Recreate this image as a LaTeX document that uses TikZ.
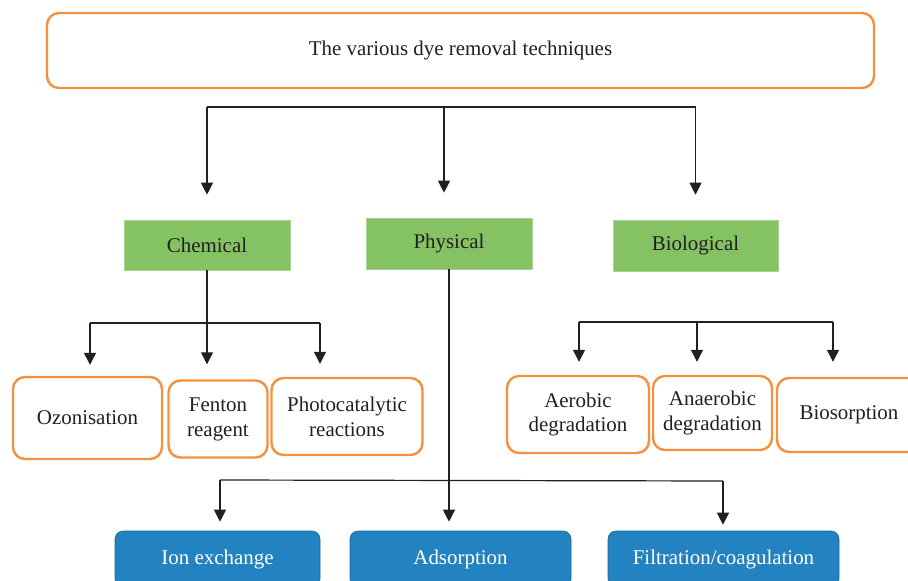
\documentclass[tikz,border=0pt]{standalone}
\usepackage{fontspec}
\setmainfont{Liberation Serif}
\usetikzlibrary{arrows.meta}
\definecolor{ramka}{HTML}{F5913E}
\definecolor{zelen}{HTML}{85C263}
\definecolor{sinij}{HTML}{2383C0}
\definecolor{tekst}{HTML}{231F20}
\tikzset{
  orangebox/.style={draw=ramka, line width=2.4bp, rounded corners=12bp, fill=white, align=center, inner sep=0pt, text=tekst},
  greenbox/.style={fill=zelen, draw=zelen!70!white, line width=0.6bp, inner sep=0pt, text=tekst},
  bluebox/.style={fill=sinij, draw=sinij!80!black, line width=0.6bp, rounded corners=8bp, inner sep=0pt, text=white},
  arr/.style={-{Triangle[length=12bp,width=12bp]}, line width=1.2bp, draw=tekst},
  lin/.style={line width=1.2bp, draw=tekst}
}
\begin{document}
\begin{tikzpicture}[x=1bp, y=-1bp, font=\fontsize{21}{25}\selectfont]
            \useasboundingbox (0,0) rectangle (908,581);

            % Заголовок
            \node[orangebox, minimum width=827bp, minimum height=75bp] (top) at (460.5,50.5) {The various dye removal techniques};

            % Группы
            \node[greenbox, minimum width=166bp, minimum height=50bp] (chem) at (207,245) {Chemical};
            \node[greenbox, minimum width=166bp, minimum height=51bp] (phys) at (449,243.5) {Physical};
            \node[greenbox, minimum width=165bp, minimum height=51bp] (bio) at (695.5,245.5) {Biological};

            % Химические
            \node[orangebox, minimum width=149bp, minimum height=82bp] (ozon) at (87.5,418) {Ozonisation};
            \node[orangebox, minimum width=99bp, minimum height=77bp] (fenton) at (218,419) {Fenton\\reagent};
            \node[orangebox, minimum width=151bp, minimum height=77bp] (photo) at (347,416.5) {Photocatalytic\\reactions};

            % Биологические
            \node[orangebox, minimum width=142bp, minimum height=77bp] (aer) at (578,414.5) {Aerobic\\degradation};
            \node[orangebox, minimum width=119bp, minimum height=74bp] (anaer) at (712.5,413) {Anaerobic\\degradation};
            \node[orangebox, minimum width=144bp, minimum height=74bp] (bios) at (849,415) {Biosorption};

            % Физические
            \node[bluebox, minimum width=205bp, minimum height=56bp] (ion) at (217.5,559) {Ion exchange};
            \node[bluebox, minimum width=221bp, minimum height=56bp] (ads) at (460.5,559) {Adsorption};
            \node[bluebox, minimum width=231bp, minimum height=56bp] (filt) at (723.5,559) {Filtration/coagulation};

            % Стрелки сверху
            \coordinate (tb) at (444,107);
            \draw[lin] (tb -| chem) -- (tb -| bio);
            \draw[arr, shorten >=25bp] (tb -| chem) -- (chem);
            \draw[arr, shorten >=25bp] (tb) -- (tb |- phys.north);
            \draw[arr, shorten >=25bp] (tb -| bio) -- (bio);

            % Стрелки к химическим
            \coordinate (cl) at (90,323);
            \coordinate (cr) at (320,323);
            \draw[lin] (cl) -- (cr);
            \draw[arr, shorten >=15bp] (chem) -- (chem |- fenton.north);
            \draw[arr, shorten >=11bp] (cl) -- (cl |- ozon.north);
            \draw[arr, shorten >=13bp] (cr) -- (cr |- photo.north);

            % Стрелки к биологическим
            \coordinate (bl) at (579,322);
            \coordinate (bm) at (697,322);
            \coordinate (br) at (833,322);
            \draw[lin] (bl) -- (br);
            \draw[arr, shorten >=13bp] (bl) -- (bl |- aer.north);
            \draw[arr, shorten >=13bp] (bm) -- (bm |- anaer.north);
            \draw[arr, shorten >=15bp] (br) -- (br |- bios.north);

            % Стрелки к физическим
            \coordinate (pl) at (220,480);
            \coordinate (pr) at (723,481);
            \draw[lin] (pl) -- (pr);
            \draw[arr, shorten >=9bp] (phys) -- (phys |- ads.north);
            \draw[arr, shorten >=9bp] (pl) -- (pl |- ion.north);
            \draw[arr, shorten >=6bp] (pr) -- (pr |- filt.north);

        \end{tikzpicture}
\end{document}
